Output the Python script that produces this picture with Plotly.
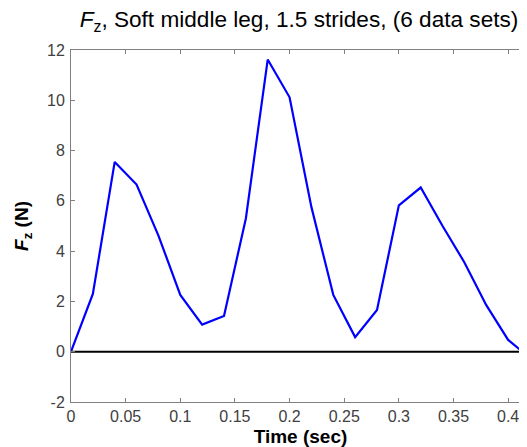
import plotly.graph_objects as go

time_s = [0.00, 0.02, 0.04, 0.06, 0.08, 0.10, 0.12, 0.14, 0.16, 0.18, 0.20,
          0.22, 0.24, 0.26, 0.28, 0.30, 0.32, 0.34, 0.36, 0.38, 0.40, 0.42]
fz_n = [0.0, 2.3, 7.55, 6.65, 4.62, 2.26, 1.08, 1.42, 5.3, 11.62, 10.12,
        5.75, 2.26, 0.58, 1.66, 5.82, 6.53, 5.0, 3.55, 1.85, 0.47, -0.25]
zero_x = [0.0, 0.42]
zero_y = [0.0, 0.0]

x_ticks = [0, 0.05, 0.1, 0.15, 0.2, 0.25, 0.3, 0.35, 0.4]
x_tick_text = ["0", "0.05", "0.1", "0.15", "0.2", "0.25", "0.3", "0.35", "0.4"]
y_ticks = [-2, 0, 2, 4, 6, 8, 10, 12]
y_tick_text = ["-2", "0", "2", "4", "6", "8", "10", "12"]

FONT = "Liberation Sans, Arial, Helvetica, sans-serif"
W, H = 530, 439

fig = go.Figure()
fig.add_trace(go.Scatter(x=time_s, y=fz_n, mode="lines",
                         line=dict(color="#0000FF", width=2.2), showlegend=False))
fig.add_trace(go.Scatter(x=zero_x, y=zero_y, mode="lines",
                         line=dict(color="#000000", width=2), showlegend=False))

axis_common = dict(showline=True, linecolor="#808080", linewidth=1, mirror="ticks",
                   ticks="inside", ticklen=4, tickcolor="#808080", showgrid=False,
                   zeroline=False, automargin=False,
                   tickfont=dict(family=FONT, size=16, color="#404040"))

fig.update_layout(
    width=W, height=H,
    margin=dict(l=63, r=8, t=42, b=45),
    plot_bgcolor="white", paper_bgcolor="white",
    title=dict(text="<i>F</i><sub>z</sub>, Soft middle leg, 1.5 strides, (6 data sets)",
               font=dict(family=FONT, size=22.6, color="#000000"),
               x=291 / W, xanchor="center", xref="container",
               y=1 - 11.5 / H, yref="container", yanchor="middle"),
    xaxis=dict(range=[0, 0.42], tickvals=x_ticks, ticktext=x_tick_text,
               title=dict(text="<b>Time (sec)</b>", standoff=7,
                          font=dict(family=FONT, size=19, color="#000000")),
               **axis_common),
    yaxis=dict(range=[-2, 12], tickvals=y_ticks, ticktext=y_tick_text,
               ticklabelstandoff=2,
               title=dict(text="<b><i>F</i><sub>z</sub> (N)</b>", standoff=13,
                          font=dict(family=FONT, size=19, color="#000000")),
               **axis_common),
)
fig.write_html("out.html")
